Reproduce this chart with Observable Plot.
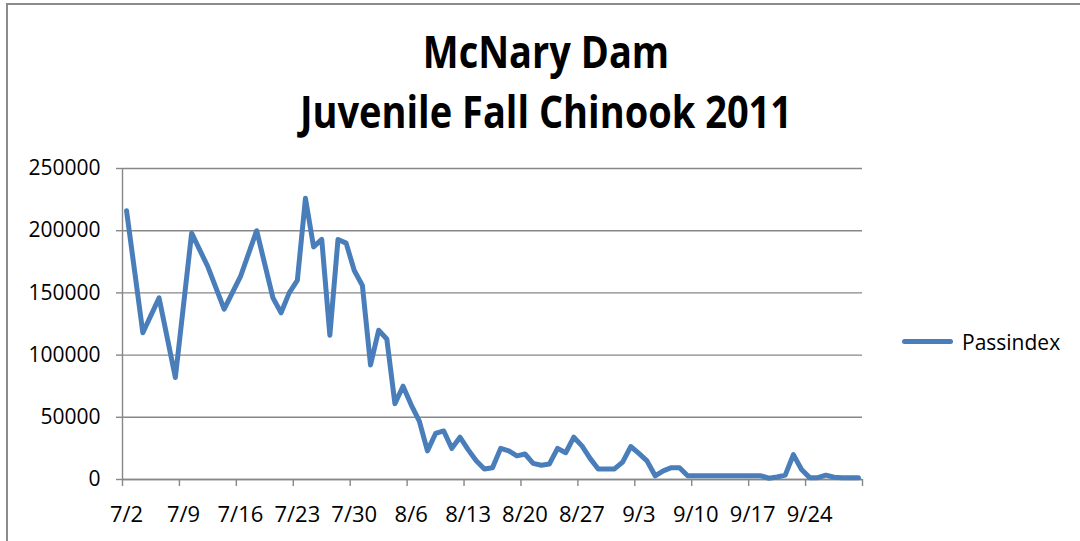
<!DOCTYPE html>
<html><head><meta charset="utf-8">
<script src="https://cdn.jsdelivr.net/npm/d3@7"></script>
<script src="https://cdn.jsdelivr.net/npm/@observablehq/plot@0.6"></script>
<style>
body{margin:0;background:#fff;}
#wrap{position:relative;width:1080px;height:541px;overflow:hidden;font-family:"Open Sans",sans-serif;background:#fff;}
#frame{position:absolute;left:6px;top:3px;width:1200px;height:700px;border-left:2px solid #8c8c8c;border-top:2px solid #8c8c8c;}
#title{position:absolute;left:0;top:20.6px;width:1092px;text-align:center;font-weight:bold;font-size:38px;line-height:51px;color:#000;transform:scaleY(1.18);transform-origin:top center;}
#chart{position:absolute;left:0;top:0;}
#legline{position:absolute;left:902px;top:339px;width:51px;height:5px;border-radius:3px;background:#4a7ebb;}
#legtext{position:absolute;left:962px;top:332px;font-size:21px;line-height:21px;color:#000;}
</style></head>
<body>
<div id="wrap">
  <div id="frame"></div>
  <div id="chart"></div>
  <div id="title">McNary Dam<br>Juvenile Fall Chinook 2011</div>
  <div id="legline"></div>
  <div id="legtext">Passindex</div>
</div>
<script>
const seriesName = "Passindex";
const dates = ["7/2","7/4","7/6","7/8","7/10","7/12","7/14","7/16","7/18","7/20",
  "7/21","7/22","7/23","7/24","7/25","7/26","7/27","7/28","7/29","7/30","7/31",
  "8/1","8/2","8/3","8/4","8/5","8/6","8/7","8/8","8/9","8/10","8/11","8/12","8/13","8/14","8/15","8/16",
  "8/17","8/18","8/19","8/20","8/21","8/22","8/23","8/24","8/25","8/26","8/27","8/28","8/29","8/30","8/31",
  "9/1","9/2","9/3","9/4","9/5","9/6","9/7","9/8","9/9","9/10","9/11","9/12","9/13","9/14","9/15","9/16",
  "9/17","9/18","9/19","9/20","9/21","9/22","9/23","9/24","9/25","9/26","9/27","9/28","9/29","9/30"];
const values = [216000,118000,146000,82000,198000,171000,137000,163000,200000,146000,
  134000,150000,160000,226000,187000,193000,116000,193000,190000,168000,156000,
  92000,120000,113000,61000,75000,60000,47000,23000,37000,39000,25000,34000,24000,15000,8500,9500,
  25000,23000,19000,20500,13000,11500,12500,25000,21500,34000,27000,17000,8500,8500,8500,
  14000,26500,21000,15000,3000,7000,9500,9500,3000,3000,3000,3000,3000,3000,3000,3000,
  3000,3000,1000,2000,3500,20000,8000,1500,1500,3500,1800,1500,1500,1500];
const tickLabels = ["7/2","7/9","7/16","7/23","7/30","8/6","8/13","8/20","8/27","9/3","9/10","9/17","9/24"];
const tickBoundaries = ["7/2","7/9","7/16","7/23","7/30","8/6","8/13","8/20","8/27","9/3","9/10","9/17","9/24","10/1"];
const yTicks = [0,50000,100000,150000,200000,250000];

const toDate = (s, hour) => { const [m,d] = s.split("/").map(Number); return new Date(Date.UTC(2011, m-1, d, hour)); };
const data = dates.map((s,i) => ({date: toDate(s,12), value: values[i]}));
const labelDates = tickLabels.map(s => toDate(s,12));
const labelMap = new Map(labelDates.map((d,i) => [+d, tickLabels[i]]));
const markDates = tickBoundaries.map(s => toDate(s,0));
const gridColor = "#878787";

const chart = Plot.plot({
  width: 1080, height: 541,
  marginLeft: 122, marginRight: 218, marginTop: 168, marginBottom: 62,
  style: {fontFamily: "'Open Sans', sans-serif", fontSize: "21px", color: "#000", background: "transparent", overflow: "visible"},
  x: {type: "utc", domain: [markDates[0], markDates[markDates.length-1]]},
  y: {domain: [0, 250000]},
  marks: [
    Plot.gridY(yTicks, {stroke: gridColor, strokeOpacity: 1, strokeWidth: 1.4}),
    Plot.ruleX([markDates[0]], {stroke: gridColor, strokeWidth: 1.4}),
    Plot.ruleY([0], {stroke: gridColor, strokeWidth: 1.4}),
    Plot.axisY(yTicks, {tickSize: 6, tickPadding: 16, stroke: gridColor, strokeWidth: 1.4, tickFormat: d => String(d), label: null}),
    Plot.axisX(markDates, {tickSize: 7, tickPadding: 0, stroke: gridColor, strokeWidth: 1.4, tickFormat: () => "", label: null}),
    Plot.axisX(labelDates, {tickSize: 0, tickPadding: 27, fontSize: 22, tickFormat: d => labelMap.get(+d), label: null}),
    Plot.line(data, {x: "date", y: "value", stroke: "#4a7ebb", strokeWidth: 5, strokeLinejoin: "round", strokeLinecap: "round"})
  ]
});
document.getElementById("chart").appendChild(chart);
document.getElementById("legtext").textContent = seriesName;
</script>
</body></html>
